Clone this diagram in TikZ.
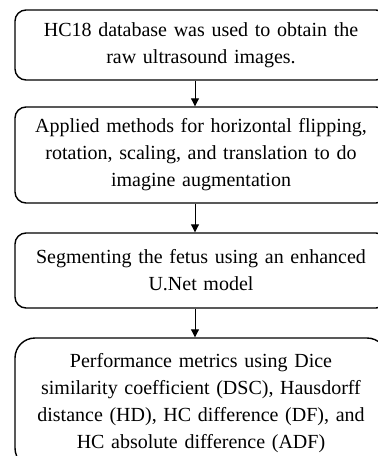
\documentclass[tikz,border=0pt]{standalone}
\usepackage{fontspec}
\setmainfont{Liberation Serif}
\usetikzlibrary{arrows.meta}
\begin{document}
\begin{tikzpicture}[x=1pt,y=1pt,
  box/.style={draw=black, line width=1.4pt, rounded corners=11pt, minimum width=372pt,
    text width=360pt, align=center, inner sep=0pt,
    font=\fontsize{20}{27}\selectfont},
  arr/.style={line width=1pt, -{Triangle[length=8pt,width=8pt]}}]
\useasboundingbox (0,0) rectangle (378,-456);
\begin{scope}
\clip (0,0) rectangle (378,-456);
\node[box, minimum height=70pt] (b1) at (201,-45) {HC18 database was used to obtain the\\raw ultrasound images.};
\node[box, minimum height=96pt] (b2) at (201,-155) {Applied methods for horizontal flipping,\\rotation, scaling, and translation to do\\imagine augmentation};
\node[box, minimum height=75pt] (b3) at (201,-270.5) {Segmenting the fetus using an enhanced\\U.Net model};
\node[box, minimum height=130pt, rounded corners=20pt] (b4) at (201,-403) {Performance metrics using Dice\\similarity coefficient (DSC), Hausdorff\\distance (HD), HC difference (DF), and\\HC absolute difference (ADF)};
\end{scope}
\draw[arr] (b1.south -| 195,0) -- (b2.north -| 195,0);
\draw[arr] (b2.south -| 195,0) -- (b3.north -| 195,0);
\draw[arr] (b3.south -| 195,0) -- (b4.north -| 195,0);
\end{tikzpicture}
\end{document}
